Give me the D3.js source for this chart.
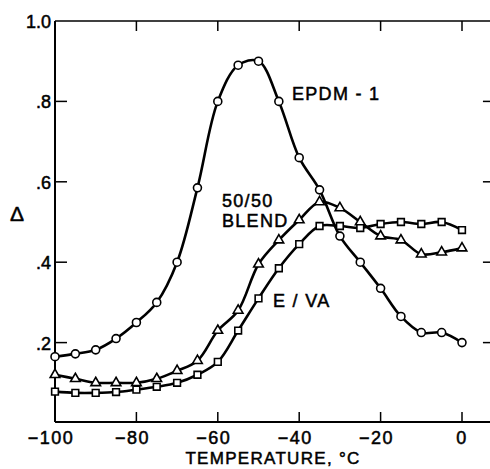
<html>
    <head>
        <style>
            body {
                background-color: white;
                margin: 0;
                padding: 0;
            }
            svg {
                display: block;
            }
            text {
                stroke: black;
                stroke-width: 0.5px;
                fill: black;
            }
        </style>
        <script src="https://cdn.jsdelivr.net/npm/d3@7"></script>
    </head>
    <body>

        <svg width="490" height="469"></svg>

        <script>

            // temperatures, every 5 degrees
            const temps = [-100, -95, -90, -85, -80, -75, -70, -65, -60, -55, -50,
                           -45, -40, -35, -30, -25, -20, -15, -10, -5, 0];

            const epdm = [0.165, 0.172, 0.182, 0.21, 0.25, 0.30, 0.40, 0.585, 0.80, 0.89, 0.90,
                          0.80, 0.66, 0.58, 0.465, 0.40, 0.335, 0.265, 0.225, 0.225, 0.20];
            const blend = [0.12, 0.11, 0.10, 0.10, 0.10, 0.11, 0.13, 0.155, 0.23, 0.28, 0.395,
                           0.455, 0.505, 0.55, 0.535, 0.50, 0.465, 0.455, 0.42, 0.425, 0.435];
            const eva = [0.078, 0.075, 0.075, 0.077, 0.083, 0.09, 0.10, 0.12, 0.152, 0.23, 0.31,
                         0.385, 0.445, 0.49, 0.49, 0.485, 0.495, 0.50, 0.495, 0.50, 0.48];

            const xTicks = [-100, -80, -60, -40, -20, 0];
            const yTicks = [0.2, 0.4, 0.6, 0.8, 1.0];
            const yTickLabels = [".2", ".4", ".6", ".8", "1.0"];

            const font = "Liberation Sans, Arial, Helvetica, sans-serif";

            svg = d3.select("svg");

            x = d3.scaleLinear().domain([-100, 0]).range([55, 462]);
            y = d3.scaleLinear().domain([0, 1]).range([423, 21]);

            const frameLeft = x(-100), frameRight = x(7.6), frameTop = y(1), frameBottom = 422;
            const tickLen = 10;

            // frame
            let frame = svg.append("g")
                .attr("stroke", "black")
                .attr("fill", "none");
            frame.append("line")
                .attr("x1", frameLeft).attr("x2", frameRight)
                .attr("y1", frameTop).attr("y2", frameTop)
                .attr("stroke-width", 1.5);
            frame.append("line")
                .attr("x1", frameLeft).attr("x2", frameRight)
                .attr("y1", frameBottom).attr("y2", frameBottom)
                .attr("stroke-width", 1.8);
            frame.append("line")
                .attr("x1", frameLeft).attr("x2", frameLeft)
                .attr("y1", frameTop).attr("y2", frameBottom)
                .attr("stroke-width", 2);

            // inward ticks top and bottom
            xTicks.filter(t => t > -100).forEach(function(t) {
                frame.append("line")
                    .attr("x1", x(t)).attr("x2", x(t))
                    .attr("y1", frameBottom).attr("y2", frameBottom - tickLen)
                    .attr("stroke-width", 1.5);
                frame.append("line")
                    .attr("x1", x(t)).attr("x2", x(t))
                    .attr("y1", frameTop).attr("y2", frameTop + tickLen)
                    .attr("stroke-width", 1.5);
            });
            // inward ticks left and right
            yTicks.filter(v => v < 1).forEach(function(v) {
                frame.append("line")
                    .attr("x1", frameLeft).attr("x2", frameLeft + 12)
                    .attr("y1", y(v)).attr("y2", y(v))
                    .attr("stroke-width", 1.5);
                frame.append("line")
                    .attr("x1", frameRight).attr("x2", frameRight - tickLen)
                    .attr("y1", y(v)).attr("y2", y(v))
                    .attr("stroke-width", 1.5);
            });

            // tick labels
            svg.selectAll(".xlab")
                .data(xTicks)
                .enter().append("text")
                .attr("class", "xlab")
                .attr("x", d => x(d) - (d < 0 ? 4 : 0))
                .attr("y", 444)
                .attr("text-anchor", "middle")
                .attr("font-family", font)
                .attr("font-size", "18px")
                .attr("letter-spacing", "1.5px")
                .text(d => d < 0 ? "\u2212" + Math.abs(d) : d);

            svg.selectAll(".ylab")
                .data(yTicks)
                .enter().append("text")
                .attr("class", "ylab")
                .attr("x", 51)
                .attr("y", d => y(d) + 7)
                .attr("text-anchor", "end")
                .attr("font-family", font)
                .attr("font-size", "18px")
                .text((d, i) => yTickLabels[i]);

            // axis titles
            svg.append("text")
                .attr("x", 273)
                .attr("y", 464)
                .attr("text-anchor", "middle")
                .attr("font-family", font)
                .attr("font-size", "17px")
                .attr("letter-spacing", "1.3px")
                .text("TEMPERATURE, \u00b0C");

            svg.append("text")
                .attr("x", 17)
                .attr("y", 221)
                .attr("text-anchor", "middle")
                .attr("font-family", font)
                .attr("font-size", "21px")
                .text("\u0394");

            // curves
            const series = [
                {name: "epdm", values: epdm, marker: "circle"},
                {name: "blend", values: blend, marker: "triangle"},
                {name: "eva", values: eva, marker: "square"}
            ];

            line = d3.line()
                .x(d => x(d[0]))
                .y(d => y(d[1]))
                .curve(d3.curveCatmullRom.alpha(0.5));

            series.forEach(function(s) {
                let pts = temps.map((t, i) => [t, s.values[i]]);
                svg.append("path")
                    .datum(pts)
                    .attr("d", line)
                    .attr("fill", "none")
                    .attr("stroke", "black")
                    .attr("stroke-width", 2.6);

                let sym = s.marker == "circle" ? d3.symbolCircle
                        : s.marker == "triangle" ? d3.symbolTriangle : d3.symbolSquare;
                let size = s.marker == "circle" ? 50 : s.marker == "triangle" ? 40 : 45;
                svg.selectAll(".m-" + s.name)
                    .data(pts)
                    .enter().append("path")
                    .attr("class", "m-" + s.name)
                    .attr("transform", d => `translate(${x(d[0])}, ${y(d[1])})`)
                    .attr("d", d3.symbol().type(sym).size(size))
                    .attr("fill", "white")
                    .attr("stroke", "black")
                    .attr("stroke-width", 1.6);
            });

            // series labels
            const labels = [
                {text: "EPDM - 1", x: 292, y: 100},
                {text: "50/50", x: 222, y: 207},
                {text: "BLEND", x: 222, y: 227},
                {text: "E / VA", x: 273, y: 307}
            ];
            svg.selectAll(".slab")
                .data(labels)
                .enter().append("text")
                .attr("class", "slab")
                .attr("x", d => d.x)
                .attr("y", d => d.y)
                .attr("font-family", font)
                .attr("font-size", "18px")
                .attr("letter-spacing", "1.3px")
                .text(d => d.text);

        </script>
    </body>
</html>
